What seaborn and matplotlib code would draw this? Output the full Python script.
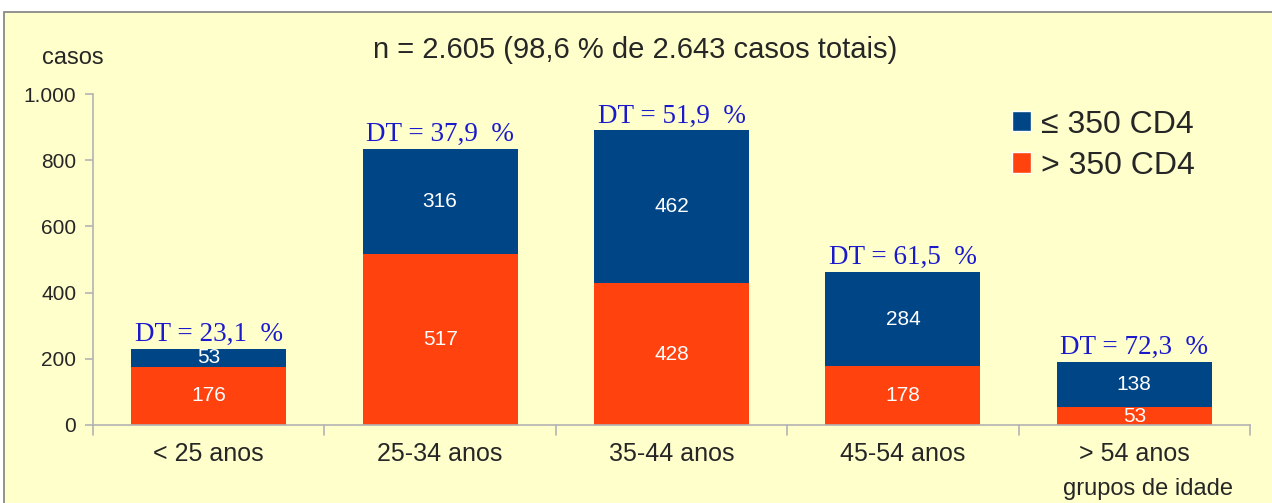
import matplotlib
matplotlib.use('Agg')
import matplotlib.pyplot as plt
import seaborn as sns
import pandas as pd
import numpy as np
from matplotlib.patches import Rectangle, Patch

grupos = ['< 25 anos', '25-34 anos', '35-44 anos', '45-54 anos', '> 54 anos']
baixo_cd4 = [53, 316, 462, 284, 138]   # <= 350 CD4
alto_cd4 = [176, 517, 428, 178, 53]    # > 350 CD4
dt_pct = ['23,1', '37,9', '51,9', '61,5', '72,3']
yticks = [0, 200, 400, 600, 800, 1000]
ytick_labels = ['0', '200', '400', '600', '800', '1.000']

df = pd.DataFrame({'grupo': grupos, 'baixo': baixo_cd4, 'alto': alto_cd4})
df['total'] = df['baixo'] + df['alto']

azul = '#004586'
laranja = '#ff420e'
fundo = '#ffffcc'
cinza = '#b3b3b3'

sns.set_style('white')
plt.rcParams['font.family'] = ['Liberation Sans', 'DejaVu Sans']

fig = plt.figure(figsize=(12.72, 5.03), dpi=100)
fig.patch.set_facecolor('white')
fig.patches.append(Rectangle((4/1272, -0.01), 1.0, (503-12)/503 + 0.01, transform=fig.transFigure,
                             facecolor=fundo, edgecolor='#808080', linewidth=1.2, zorder=-5))
ax = fig.add_axes([93/1272, 78/503, (1250-93)/1272, 331/503])
ax.set_facecolor('none')

sns.barplot(data=df, x='grupo', y='total', color=azul, width=0.67, saturation=1, ax=ax, linewidth=0)
sns.barplot(data=df, x='grupo', y='alto', color=laranja, width=0.67, saturation=1, ax=ax, linewidth=0)

ax.set_ylim(0, 1000)
ax.set_xlim(-0.5, len(grupos) - 0.5)
ax.set_yticks(yticks)
ax.set_yticklabels(ytick_labels, fontsize=15)
ax.set_xticks(range(len(grupos)))
ax.set_xticklabels(grupos, fontsize=18)
ax.tick_params(axis='x', length=0, pad=12)
ax.tick_params(axis='y', length=6, color=cinza, width=1.2, left=True, pad=6)
# category separators on the x axis
for b in np.arange(-0.5, len(grupos), 1.0):
    ax.plot([b, b], [0, -0.03], transform=ax.get_xaxis_transform(), color=cinza, lw=1.2, clip_on=False)
ax.set_xlabel('')
ax.set_ylabel('')
for s in ['top', 'right']:
    ax.spines[s].set_visible(False)
for s in ['left', 'bottom']:
    ax.spines[s].set_color(cinza)
    ax.spines[s].set_linewidth(1.2)

for i, row in df.iterrows():
    ax.text(i, row['alto'] / 2, str(row['alto']), ha='center', va='center', color='white', fontsize=15)
    ax.text(i, row['alto'] + row['baixo'] / 2, str(row['baixo']), ha='center', va='center',
            color='white', fontsize=15)
    ax.text(i, row['total'] + 6, 'DT = ' + dt_pct[i] + '  %', ha='center', va='bottom',
            color='#1a1acc', fontsize=19.5, family=['Liberation Serif', 'DejaVu Serif'])

fig.text(73/1272, 1 - 58/503, 'casos', ha='center', va='center', fontsize=17)
fig.text(635/1272, 1 - 50/503, 'n = 2.605 (98,6 % de 2.643 casos totais)', ha='center', va='center', fontsize=21)
fig.text(1148/1272, 1 - 489/503, 'grupos de idade', ha='center', va='center', fontsize=17)

handles = [Patch(facecolor=azul, label='≤ 350 CD4'), Patch(facecolor=laranja, label='> 350 CD4')]
leg = ax.legend(handles=handles, loc='upper right', bbox_to_anchor=(0.977, 1.04), frameon=False,
                fontsize=23, handlelength=0.6, handleheight=0.6, handletextpad=0.3, labelspacing=0.35)

fig.savefig('out.png', dpi=100)
